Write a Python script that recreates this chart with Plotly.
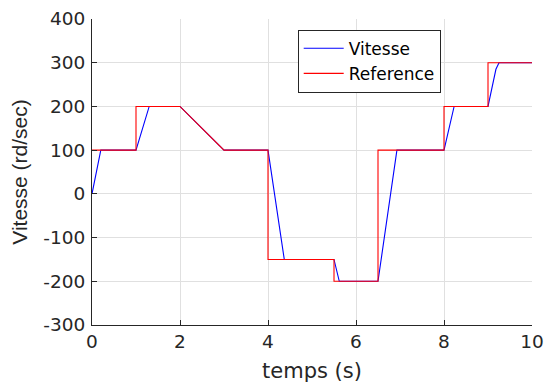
import plotly.graph_objects as go

# Reference signal
t_ref = [0, 1, 1, 2, 3, 4, 4, 5.5, 5.5, 6.5, 6.5, 8, 8, 9, 9, 10]
v_ref = [100, 100, 200, 200, 100, 100, -150, -150, -200, -200, 100, 100, 200, 200, 300, 300]

# Measured speed
t_vit = [0, 0.2, 1, 1.3, 2, 3, 4, 4.37, 5.5, 5.62, 6.5, 6.93, 8, 8.23, 9, 9.1, 9.18, 9.25, 10]
v_vit = [0, 100, 100, 200, 200, 100, 100, -150, -150, -200, -200, 100, 100, 200, 200, 245, 285, 300, 300]

x_ticks = [0, 2, 4, 6, 8, 10]
x_tick_labels = ["0", "2", "4", "6", "8", "10"]
y_ticks = [-300, -200, -100, 0, 100, 200, 300, 400]
y_tick_labels = ["-300", "-200", "-100", "0", "100", "200", "300", "400"]

FONT_H = "DejaVu Sans, sans-serif"
FONT_V = "Liberation Sans, Arial, sans-serif"
TXT = "#262626"

fig = go.Figure()
fig.add_trace(go.Scatter(x=t_vit, y=v_vit, mode="lines", name="Vitesse",
                         line=dict(color="#0000ff", width=1.1)))
fig.add_trace(go.Scatter(x=t_ref, y=v_ref, mode="lines", name="Reference",
                         line=dict(color="#ff0000", width=1.1)))

axis_common = dict(showgrid=True, gridcolor="#e0e0e0", gridwidth=1,
                   showline=True, linecolor=TXT, linewidth=1,
                   ticks="inside", ticklen=5, tickcolor=TXT,
                   tickfont=dict(family=FONT_H, size=18.5, color=TXT),
                   zeroline=False, mirror=False, automargin=False)

fig.update_xaxes(range=[0, 10], tickvals=x_ticks, ticktext=x_tick_labels,
                 title=dict(text="temps (s)", font=dict(family=FONT_H, size=21, color=TXT), standoff=14),
                 **axis_common)
fig.update_yaxes(range=[-300, 400], tickvals=y_ticks, ticktext=y_tick_labels, ticklabelstandoff=2,
                 title=dict(text="Vitesse (rd/sec)", font=dict(family=FONT_V, size=21, color=TXT), standoff=9),
                 **axis_common)

fig.update_layout(
    width=544, height=383,
    margin=dict(l=92, r=12, t=19, b=58),
    paper_bgcolor="white", plot_bgcolor="white",
    showlegend=True,
    legend=dict(x=0.4675, y=0.965, xanchor="left", yanchor="top",
                bgcolor="white", bordercolor=TXT, borderwidth=1,
                font=dict(family=FONT_H, size=17, color="#000000"),
                tracegroupgap=0, itemwidth=40),
)

fig.write_html("out.html")
